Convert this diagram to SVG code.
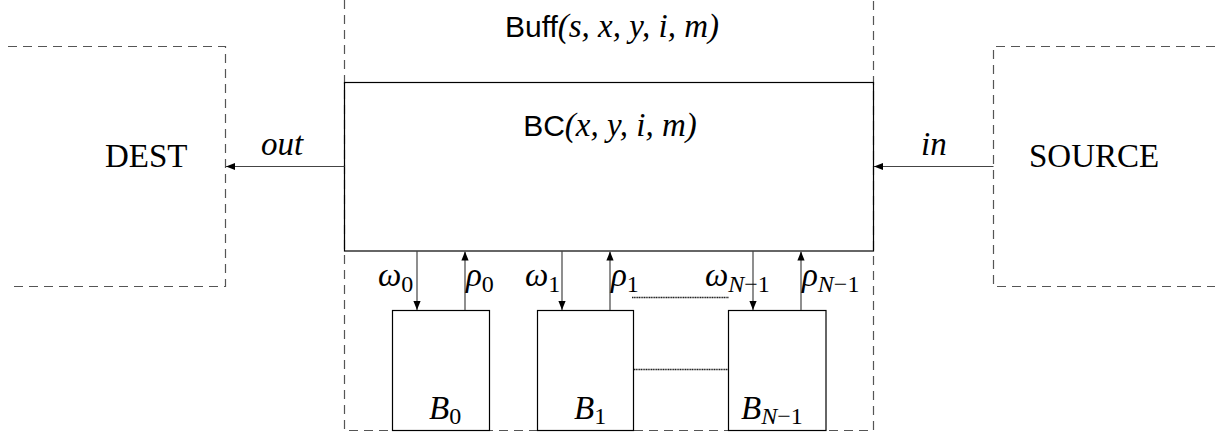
<svg xmlns="http://www.w3.org/2000/svg" width="1215" height="437" viewBox="0 0 1215 437">
<defs>
<style>
.dash{fill:none;stroke:#555;stroke-width:1.2;stroke-dasharray:9 6}
.solid{fill:none;stroke:#000;stroke-width:1.2}
.conn{fill:none;stroke:#444;stroke-width:1.2}
.dot{fill:none;stroke:#222;stroke-width:1.3;stroke-dasharray:1.2 0.5}
.rm{font-family:"Liberation Serif",serif;font-style:normal;font-size:33px;fill:#000}
.mi{font-family:"Liberation Serif",serif;font-style:italic;font-size:33px;fill:#000}
.ss{font-family:"Liberation Sans",sans-serif;font-size:30px;fill:#000}
.sub{font-size:24px}
</style>
<marker id="ah" viewBox="0 0 10 10" refX="10" refY="5" markerWidth="9" markerHeight="9" markerUnits="userSpaceOnUse" orient="auto">
<path d="M0,1 L10,5 L0,9 Z" fill="#000"/>
</marker>
</defs>
<g id="buff">
<path class="dash" d="M344.5,0 V430.5 H873.5 V0"/>
<text class="ss" x="612" y="37" text-anchor="middle">Buff<tspan class="mi">(s, x, y, i, m)</tspan></text>
</g>
<g id="dest">
<path class="dash" d="M8,46.5 H225.5 V286.5 H8"/>
<text class="rm" x="105" y="167">DEST</text>
</g>
<g id="source">
<path class="dash" d="M1215,46.5 H993.5 V286.5 H1215"/>
<text class="rm" x="1029" y="167">SOURCE</text>
</g>
<g id="bc">
<rect class="solid" x="344.5" y="82.5" width="529" height="168.5" fill="#fff"/>
<text class="ss" x="610" y="136" text-anchor="middle">BC<tspan class="mi">(x, y, i, m)</tspan></text>
</g>
<g id="b0">
<rect class="solid" x="392.5" y="310.5" width="97" height="120"/>
<text class="mi" x="429" y="419">B<tspan class="rm sub" dy="5">0</tspan></text>
</g>
<g id="b1">
<rect class="solid" x="537.5" y="310.5" width="96" height="120"/>
<text class="mi" x="574" y="419">B<tspan class="rm sub" dy="5">1</tspan></text>
</g>
<g id="bn1">
<rect class="solid" x="728.5" y="310.5" width="97.5" height="120"/>
<text class="mi" x="741" y="419">B<tspan class="mi sub" dy="5">N</tspan><tspan class="rm sub">−1</tspan></text>
</g>
<g id="connectors">
<line class="conn" x1="344.5" y1="166.5" x2="226" y2="166.5" marker-end="url(#ah)"/>
<line class="conn" x1="993.5" y1="166.5" x2="874" y2="166.5" marker-end="url(#ah)"/>
<line class="conn" x1="417" y1="251" x2="417" y2="310" marker-end="url(#ah)"/>
<line class="conn" x1="465" y1="310" x2="465" y2="251.5" marker-end="url(#ah)"/>
<line class="conn" x1="562" y1="251" x2="562" y2="310" marker-end="url(#ah)"/>
<line class="conn" x1="610" y1="310" x2="610" y2="251.5" marker-end="url(#ah)"/>
<line class="conn" x1="753" y1="251" x2="753" y2="310" marker-end="url(#ah)"/>
<line class="conn" x1="801" y1="310" x2="801" y2="251.5" marker-end="url(#ah)"/>
<line class="dot" x1="632" y1="297.5" x2="729" y2="297.5"/>
<line class="dot" x1="634" y1="369.5" x2="728" y2="369.5"/>
<text class="mi" x="261" y="155">out</text>
<text class="mi" x="921" y="155">in</text>
<text class="mi" x="378" y="286">ω<tspan class="rm sub" dy="6">0</tspan></text>
<text class="mi" x="466" y="286">ρ<tspan class="rm sub" dy="6">0</tspan></text>
<text class="mi" x="525" y="286">ω<tspan class="rm sub" dy="6">1</tspan></text>
<text class="mi" x="611" y="286">ρ<tspan class="rm sub" dy="6">1</tspan></text>
<text class="mi" x="705" y="286">ω<tspan class="mi sub" dy="6">N</tspan><tspan class="rm sub">−1</tspan></text>
<text class="mi" x="802" y="286">ρ<tspan class="mi sub" dy="6">N</tspan><tspan class="rm sub">−1</tspan></text>
</g>
</svg>
